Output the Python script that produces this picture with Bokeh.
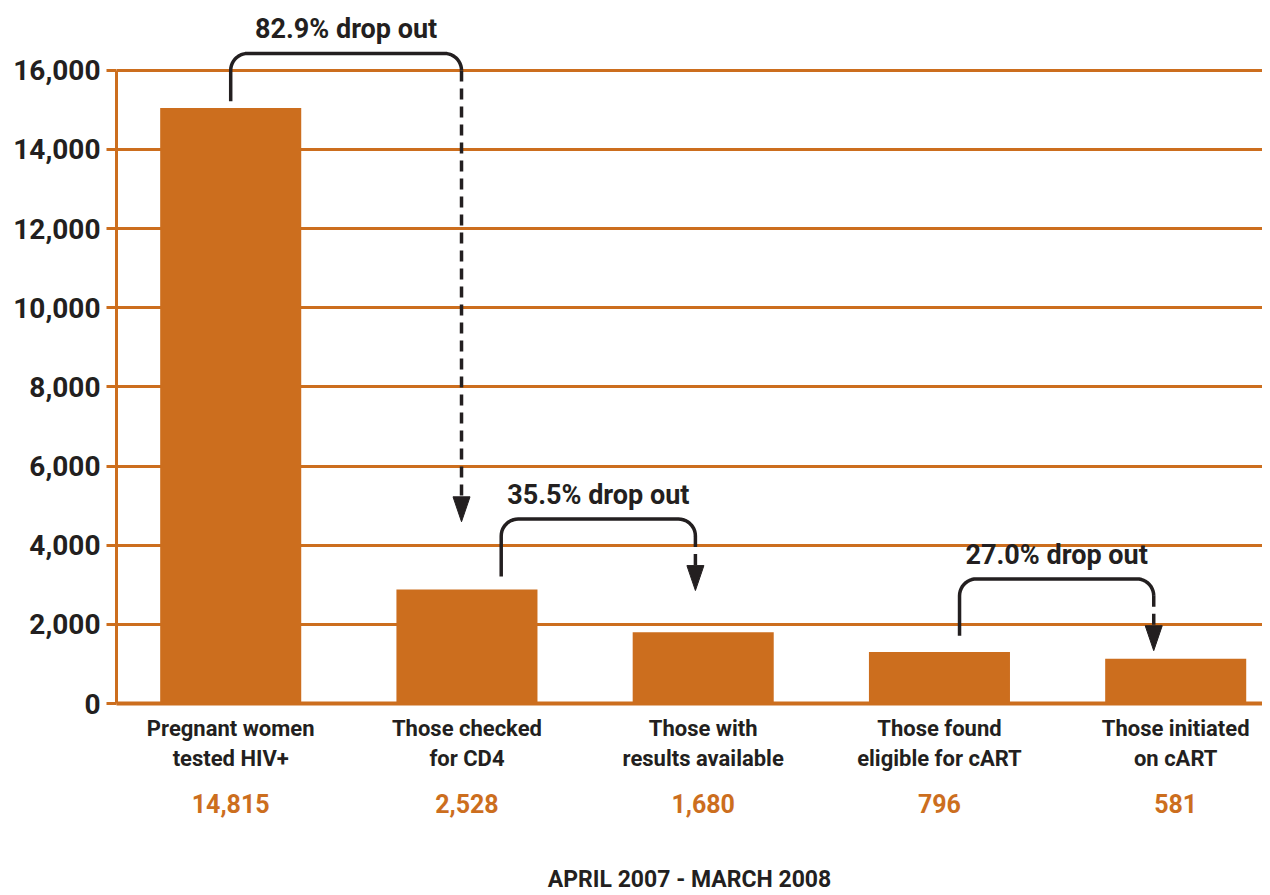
import numpy as np
from bokeh.plotting import figure
from bokeh.models import Range1d, FixedTicker, NumeralTickFormatter, LinearAxis, ColumnDataSource
from bokeh.core.properties import value
from bokeh.embed import file_html
from bokeh.resources import INLINE

# ---------------- data ----------------
categories = ["Pregnant women\ntested HIV+", "Those checked\nfor CD4", "Those with\nresults available",
              "Those found\neligible for cART", "Those initiated\non cART"]
bar_heights = [15050, 2880, 1800, 1300, 1130]          # bar heights as drawn in the picture
reported_counts = [14815, 2528, 1680, 796, 581]        # numbers printed under the categories
dropout_labels = ["82.9% drop out", "35.5% drop out", "27.0% drop out"]
y_ticks = [0, 2000, 4000, 6000, 8000, 10000, 12000, 14000, 16000]
period_label = "APRIL 2007 - MARCH 2008"

# annotation layout (bracket from bar -> bar, in axis units)
brackets = [
    dict(x0=0.0, x1=0.977, y_top=16427, y_left=15218, y_tip=4593),
    dict(x0=1.145, x1=1.967, y_top=4661, y_left=3207, y_tip=2855),
    dict(x0=3.085, x1=3.907, y_top=3149, y_left=1713, y_tip=1335),
]

ORANGE = "#CC6E1E"
DARK = "#231F20"
FONT = "Roboto"

X0, X1 = -0.4834, 4.3674
Y0, Y1 = 0, 17512
W, H = 1262, 895
BL, BR, BT, BB = 116, 0, 10, 190
px_x = (W - BL - BR) / (X1 - X0)
px_y = (H - BT - BB) / (Y1 - Y0)

p = figure(width=W, height=H, output_backend="svg", toolbar_location=None,
           x_range=Range1d(X0, X1), y_range=Range1d(Y0, Y1),
           min_border_left=BL, min_border_right=BR, min_border_top=BT, min_border_bottom=BB,
           x_axis_location=None, y_axis_location=None)
p.outline_line_color = None
p.background_fill_color = "white"
p.border_fill_color = "white"

xs = list(range(len(categories)))
src = ColumnDataSource(dict(x=xs, top=bar_heights))
p.vbar(x="x", top="top", bottom=0, width=0.597, source=src, fill_color=ORANGE, line_color=None)

# y axis
yax = LinearAxis(ticker=FixedTicker(ticks=y_ticks), formatter=NumeralTickFormatter(format="0,0"))
yax.bounds = (0, 16000)
yax.axis_line_color = ORANGE
yax.axis_line_width = 3
yax.major_tick_line_color = ORANGE
yax.major_tick_line_width = 3
yax.major_tick_out = 10
yax.major_tick_in = 0
yax.minor_tick_line_color = None
yax.major_label_standoff = 6
yax.major_label_text_font = FONT
yax.major_label_text_font_style = "bold"
yax.major_label_text_font_size = "28px"
yax.major_label_text_color = DARK
p.add_layout(yax, "left")

# category axis
xax = LinearAxis(ticker=FixedTicker(ticks=xs),
                 major_label_overrides={i: c for i, c in enumerate(categories)})
xax.axis_line_color = ORANGE
xax.axis_line_width = 4
xax.major_tick_line_color = None
xax.minor_tick_line_color = None
xax.major_tick_out = 0
xax.major_label_standoff = 12
xax.major_label_text_font = FONT
xax.major_label_text_font_style = "bold"
xax.major_label_text_font_size = "22px"
xax.major_label_text_color = DARK
p.add_layout(xax, "below")

# count axis
cax = LinearAxis(ticker=FixedTicker(ticks=xs),
                 major_label_overrides={i: f"{v:,}" for i, v in enumerate(reported_counts)})
cax.axis_line_color = None
cax.major_tick_line_color = None
cax.minor_tick_line_color = None
cax.major_tick_out = 0
cax.major_label_standoff = 20
cax.major_label_text_font = FONT
cax.major_label_text_font_style = "bold"
cax.major_label_text_font_size = "25px"
cax.major_label_text_color = ORANGE
cax.axis_label = period_label
cax.axis_label_standoff = 50
cax.axis_label_text_font = FONT
cax.axis_label_text_font_style = "bold"
cax.axis_label_text_font_size = "23px"
cax.axis_label_text_color = DARK
p.add_layout(cax, "below")

p.xgrid.grid_line_color = None
p.ygrid.ticker = FixedTicker(ticks=y_ticks[1:])
p.ygrid.grid_line_color = ORANGE
p.ygrid.grid_line_width = 3

# brackets with arrows
R = 17.0        # corner radius px
HW, HL = 8.5, 25.0   # arrow head half width / length px
for b, lab in zip(brackets, dropout_labels):
    rx, ry = R / px_x, R / px_y
    t1 = np.linspace(np.pi, np.pi / 2, 12)
    t2 = np.linspace(np.pi / 2, 0, 12)
    bx = [b["x0"]] + list(b["x0"] + rx + rx * np.cos(t1)) + list(b["x1"] - rx + rx * np.cos(t2))
    by = [b["y_left"]] + list(b["y_top"] - ry + ry * np.sin(t1)) + list(b["y_top"] - ry + ry * np.sin(t2))
    p.line(bx, by, line_color=DARK, line_width=3.5, line_cap="butt", line_join="round")
    base = b["y_tip"] + HL / px_y
    p.line([b["x1"], b["x1"]], [b["y_top"] - ry, base], line_color=DARK, line_width=3.5,
           line_dash="11 7")
    p.patch([b["x1"] - HW / px_x, b["x1"] + HW / px_x, b["x1"]], [base, base, b["y_tip"]],
            fill_color=DARK, line_color=DARK, line_width=1)
    p.text(x=[(b["x0"] + b["x1"]) / 2], y=[b["y_top"]], text=[lab], text_align="center",
           text_baseline="alphabetic", y_offset=-24, text_font=value(FONT),
           text_font_style="bold", text_font_size="27px", text_color=DARK)

open("out.html", "w").write(file_html(p, INLINE))
